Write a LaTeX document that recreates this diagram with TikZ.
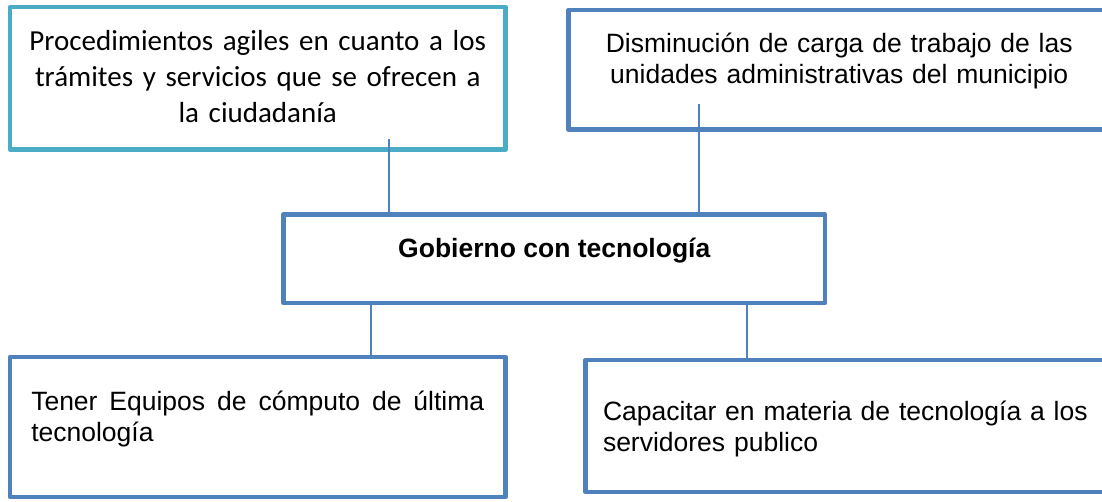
\documentclass[tikz,border=0pt]{standalone}
\usepackage{fontspec}
\setmainfont{Liberation Sans}
\newfontfamily\calibrifont{Carlito}
\usetikzlibrary{positioning}
\definecolor{tealline}{RGB}{75,172,198}
\definecolor{blueline}{RGB}{79,129,189}
\tikzset{
  box/.style={
    rectangle, draw=blueline, line width=4.8pt, fill=white,
    inner sep=0pt, line join=round,
    font=\fontsize{26.5}{31}\selectfont
  },
  tbox/.style={box, draw=tealline, font=\calibrifont\fontsize{29}{36}\selectfont},
  base/.style={text height=0pt, text depth=#1},
  link/.style={draw=blueline, line width=1.8pt}
}

\begin{document}
\begin{tikzpicture}[x=1pt, y=-1pt]
  \useasboundingbox (0,0) rectangle (1102,501);
  \fill[white] (0,0) rectangle (1102,501);
  \clip (0,0) rectangle (1102,501);

  % upper boxes
  \node[tbox, minimum width=495.5pt, minimum height=142.5pt, text width=480pt,
        align=center, base=56.5pt] (proc) at (257.75,78.25)
        {Procedimientos agiles en cuanto a los\\trámites y servicios que se ofrecen a\\la ciudadanía};
  \node[box, minimum width=541.5pt, minimum height=119.5pt, text width=520pt,
        align=center, base=35.5pt] (carga) at (839.25,69.75)
        {Disminución de carga de trabajo de las\\unidades administrativas del municipio};

  % central box
  \node[box, minimum width=541.5pt, minimum height=88.5pt, base=3.5pt,
        font=\bfseries\fontsize{26.5}{31}\selectfont] (gob) at (554.25,258.75)
        {Gobierno con tecnología};

  % lower boxes
  \node[box, minimum width=495.5pt, minimum height=140pt, text width=453pt,
        align=justify, base=34pt] (equipo) at (257.75,427)
        {Tener Equipos de cómputo de última\linebreak tecnología};
  \node[box, minimum width=522.5pt, minimum height=132pt, text width=487.5pt,
        align=left, base=12pt] (capac) at (846.75,426)
        {Capacitar en materia de tecnología a los\\servidores publico};

  \coordinate (j1) at (389,0);
  \coordinate (j2) at (699,0);
  \coordinate (j3) at (371,0);
  \coordinate (j4) at (747,0);

  \draw[link] ([yshift=12.5pt]proc.south -| j1) -- (gob.north -| j1);
  \draw[link] ([yshift=27.5pt]carga.south -| j2) -- (gob.north -| j2);
  \draw[link] (gob.south -| j3) -- (equipo.north -| j3);
  \draw[link] (gob.south -| j4) -- (capac.north -| j4);
\end{tikzpicture}
\end{document}
